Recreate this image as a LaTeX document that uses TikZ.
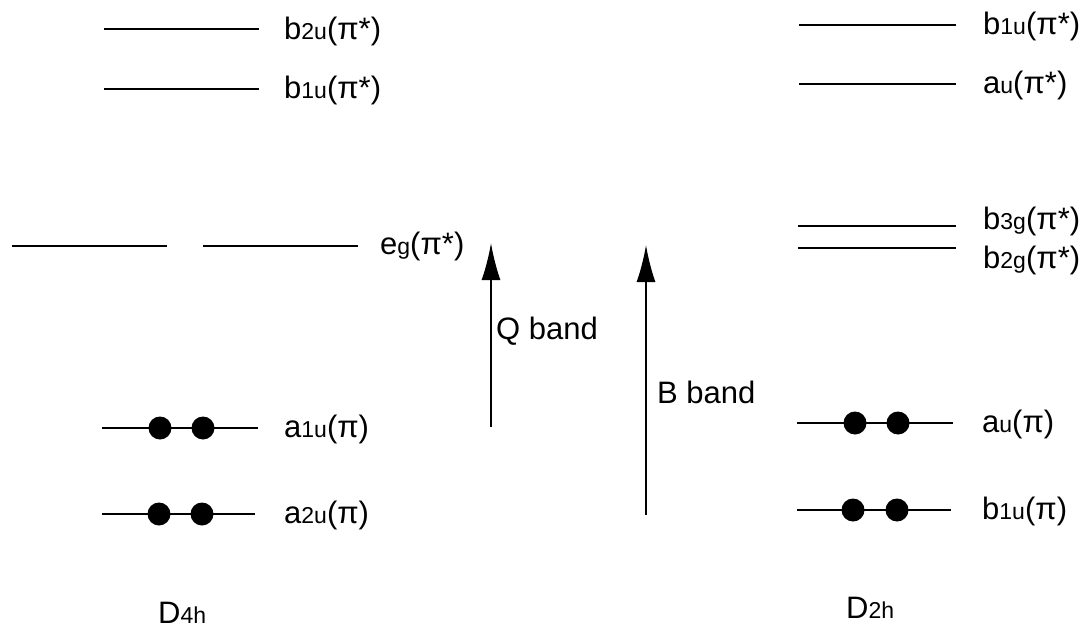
\documentclass[tikz,border=0pt]{standalone}
\usepackage{fontspec}
\setmainfont{Liberation Sans}
\usetikzlibrary{arrows.meta}
\newcommand{\lo}[1]{{\fontsize{23}{25}\selectfont #1}}
\begin{document}
\begin{tikzpicture}[x=1pt,y=-1pt,
  level/.style={line width=1.8pt},
  lab/.style={anchor=west,inner sep=0pt,font=\fontsize{31}{34}\selectfont},
  elec/.style={circle,fill=black,minimum size=23pt,inner sep=0pt},
  trans/.style={line width=1.8pt,-{Latex[length=37pt,width=19pt]}}]
\useasboundingbox (0,0) rectangle (1086,631);
% D4h levels
\coordinate (l1a) at (104,29); \coordinate (l1b) at (259,29);
\draw[level] (l1a) -- (l1b);
\node[lab] (t1) at (284,31) {b\lo{2u}(π*)};
\coordinate (l2a) at (104,89); \coordinate (l2b) at (259,89);
\draw[level] (l2a) -- (l2b);
\node[lab] (t2) at (284,90) {b\lo{1u}(π*)};
\coordinate (l3a) at (12,246); \coordinate (l3b) at (167,246);
\coordinate (l3c) at (203,246); \coordinate (l3d) at (358,246);
\draw[level] (l3a) -- (l3b);
\draw[level] (l3c) -- (l3d);
\node[lab] (t3) at (380,246) {e\lo{g}(π*)};
\coordinate (l4a) at (102,428); \coordinate (l4b) at (258,428);
\draw[level] (l4a) -- (l4b);
\node[elec] (e41) at (160,428) {};
\node[elec] (e42) at (203,428) {};
\node[lab] (t4) at (284,429) {a\lo{1u}(π)};
\coordinate (l5a) at (102,514); \coordinate (l5b) at (255,514);
\draw[level] (l5a) -- (l5b);
\node[elec] (e51) at (159,514) {};
\node[elec] (e52) at (202,514) {};
\node[lab] (t5) at (284,515) {a\lo{2u}(π)};
\node[lab] (d4h) at (158,613) {D\lo{4h}};
% transitions
\coordinate (qs) at (491,427); \coordinate (qe) at (491,243);
\draw[trans] (qs) -- (qe);
\node[lab] (qlab) at (496,331) {Q band};
\coordinate (bs) at (646,515); \coordinate (be) at (646,245);
\draw[trans] (bs) -- (be);
\node[lab] (blab) at (657,392) {B band};
% D2h levels
\coordinate (r1a) at (799,25); \coordinate (r1b) at (956,25);
\draw[level] (r1a) -- (r1b);
\node[lab] (u1) at (983,26) {b\lo{1u}(π*)};
\coordinate (r2a) at (799,84); \coordinate (r2b) at (956,84);
\draw[level] (r2a) -- (r2b);
\node[lab] (u2) at (983,85) {a\lo{u}(π*)};
\coordinate (r3a) at (798,226); \coordinate (r3b) at (956,226);
\draw[level] (r3a) -- (r3b);
\node[lab] (u3) at (983,221) {b\lo{3g}(π*)};
\coordinate (r4a) at (798,248); \coordinate (r4b) at (956,248);
\draw[level] (r4a) -- (r4b);
\node[lab] (u4) at (983,260) {b\lo{2g}(π*)};
\coordinate (r5a) at (797,423); \coordinate (r5b) at (953,423);
\draw[level] (r5a) -- (r5b);
\node[elec] (f51) at (855,423) {};
\node[elec] (f52) at (898,423) {};
\node[lab] (u5) at (982,424) {a\lo{u}(π)};
\coordinate (r6a) at (797,510); \coordinate (r6b) at (951,510);
\draw[level] (r6a) -- (r6b);
\node[elec] (f61) at (853,510) {};
\node[elec] (f62) at (897,510) {};
\node[lab] (u6) at (982,511) {b\lo{1u}(π)};
\node[lab] (d2h) at (846,608) {D\lo{2h}};
\end{tikzpicture}
\end{document}
